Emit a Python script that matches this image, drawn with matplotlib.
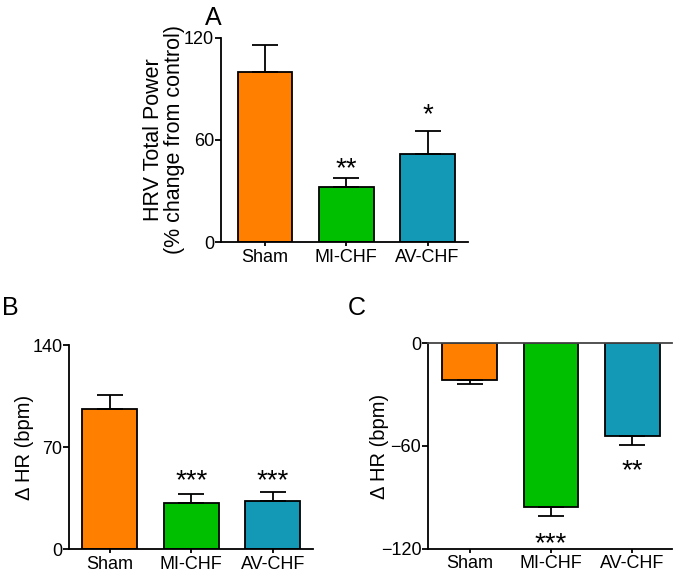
import numpy as np
import matplotlib
matplotlib.use("Agg")
import matplotlib.pyplot as plt

plt.rcParams['font.family'] = ['Liberation Sans', 'DejaVu Sans']

# дані
groups = ['Sham', 'MI-CHF', 'AV-CHF']
colors = ['#FF7F00', '#00BF00', '#1399B6']

hrv_mean = [100.0, 32.2, 51.8]
hrv_sem = [15.7, 5.3, 13.7]
hrv_stars = ['', '**', '*']
hrv_star_y = [0, 38.8, 70.3]

dhr_mean = [96.2, 31.5, 33.3]
dhr_sem = [9.6, 6.4, 6.2]
dhr_stars = ['', '***', '***']
dhr_star_y = [0, 41.7, 41.7]

pe_mean = [-21.6, -95.5, -54.0]
pe_sem = [2.2, 5.4, 5.4]
pe_stars = ['', '***', '**']
pe_star_y = [0, -121.5, -78.6]

W, H = 675, 573
fig = plt.figure(figsize=(W / 100, H / 100), dpi=100)


def ax_at(left, right, top, bottom):
    return fig.add_axes([left / W, 1 - bottom / H, (right - left) / W, (bottom - top) / H])


def bars(ax, mean, sem, stars, star_y, xlim, ylim, yticks, down=False):
    x = np.arange(len(groups))
    if down:
        err = [sem, [0] * len(sem)]
    else:
        err = [[0] * len(sem), sem]
    ax.bar(x, mean, width=0.67, color=colors, edgecolor='black', linewidth=1.3,
           yerr=err, capsize=9.5, error_kw=dict(elinewidth=1.3, capthick=1.3, ecolor='black'),
           zorder=2)
    for xi, s, sy in zip(x, stars, star_y):
        if s:
            ax.text(xi, sy, s, ha='center', va='baseline', fontsize=20)
    ax.set_xlim(*xlim)
    ax.set_ylim(*ylim)
    ax.set_yticks(yticks)
    ax.set_xticks(x)
    ax.set_xticklabels(groups)
    for side in ['top', 'right']:
        ax.spines[side].set_visible(False)
    for side in ['left', 'bottom']:
        ax.spines[side].set_linewidth(1.3)
    ax.tick_params(axis='y', length=4, width=1.3, labelsize=13, pad=1)
    ax.tick_params(axis='x', length=3, width=1.3, labelsize=13, pad=1.5)


# A
axA = ax_at(221, 468, 37.7, 242.3)
bars(axA, hrv_mean, hrv_sem, hrv_stars, hrv_star_y, (-0.541, 2.497), (0, 120), [0, 60, 120])
axA.set_ylabel('HRV Total Power\n(% change from control)', fontsize=15.5, labelpad=-1,
               linespacing=1.05)

# B
axB = ax_at(69.3, 313.3, 345, 549.3)
bars(axB, dhr_mean, dhr_sem, dhr_stars, dhr_star_y, (-0.496, 2.498), (0, 140), [0, 70, 140])
axB.set_ylabel('Δ HR (bpm)', fontsize=14.5, labelpad=-1)

# C
axC = ax_at(428.3, 671.7, 343.3, 548.7)
bars(axC, pe_mean, pe_sem, pe_stars, pe_star_y, (-0.509, 2.485), (-120, 0), [-120, -60, 0], down=True)
axC.spines['top'].set_visible(True)
axC.spines['top'].set_linewidth(1.3)
axC.spines['top'].set_color('#444444')
axC.set_ylabel('Δ HR (bpm)', fontsize=14.5, labelpad=-6)

fig.text(205 / W, 1 - 25 / H, 'A', fontsize=18)
fig.text(2 / W, 1 - 315 / H, 'B', fontsize=18)
fig.text(348 / W, 1 - 315 / H, 'C', fontsize=18)

fig.savefig('out.png', dpi=100)
